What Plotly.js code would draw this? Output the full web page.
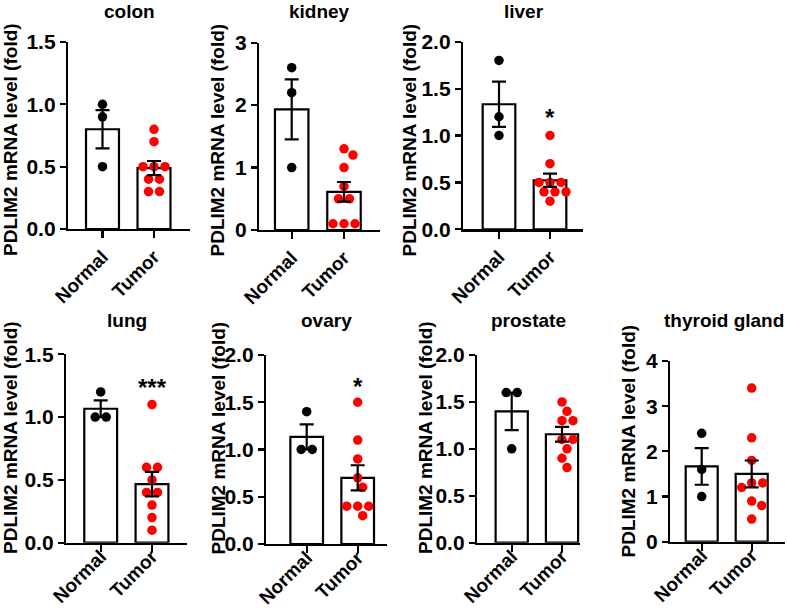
<!DOCTYPE html>
<html>
<head>
<meta charset="utf-8">
<script src="https://cdn.plot.ly/plotly-3.0.1.min.js"></script>
<style>
  body { margin: 0; background: #fff; }
  #chart { width: 787px; height: 610px; }
</style>
</head>
<body>
<div id="chart"></div>
<script>
// values (fold change, one dot per sample)
const tissues = ["colon", "kidney", "liver", "lung", "ovary", "prostate", "thyroid gland"];
const groups = ["Normal", "Tumor"];

const colonNormal = [1.0, 0.9, 0.5];
const colonTumor = [0.8, 0.7, 0.5, 0.5, 0.5, 0.4, 0.4, 0.3, 0.3];
const kidneyNormal = [2.6, 2.2, 1.0];
const kidneyTumor = [1.3, 1.2, 1.0, 0.7, 0.5, 0.5, 0.1, 0.1, 0.1];
const liverNormal = [1.8, 1.2, 1.0];
const liverTumor = [1.0, 0.7, 0.5, 0.5, 0.5, 0.4, 0.4, 0.4, 0.3];
const lungNormal = [1.2, 1.0, 1.0];
const lungTumor = [1.1, 0.6, 0.6, 0.5, 0.4, 0.4, 0.3, 0.2, 0.1];
const ovaryNormal = [1.4, 1.0, 1.0];
const ovaryTumor = [1.5, 1.1, 0.9, 0.7, 0.6, 0.4, 0.4, 0.4, 0.3];
const prostateNormal = [1.6, 1.6, 1.0];
const prostateTumor = [1.5, 1.4, 1.3, 1.3, 1.1, 1.1, 1.0, 0.9, 0.8];
const thyroidNormal = [2.4, 1.6, 1.0];
const thyroidTumor = [3.4, 2.3, 1.8, 1.3, 1.3, 1.2, 0.9, 0.8, 0.5];

const yMax = [1.5, 3, 2, 1.5, 2, 2, 4];
const yStep = [0.5, 1, 0.5, 0.5, 0.5, 0.5, 1];
const stars = ["", "", "*", "***", "*", "", ""];

const normals = [colonNormal, kidneyNormal, liverNormal, lungNormal, ovaryNormal, prostateNormal, thyroidNormal];
const tumors = [colonTumor, kidneyTumor, liverTumor, lungTumor, ovaryTumor, prostateTumor, thyroidTumor];

const W = 787, H = 610;
const FONT = "Arial, 'Liberation Sans', sans-serif";
const DOT = 9.5;

// page pixels: y-axis line, category centres, x-axis end, top tick, zero line,
// centre of the y title, and where the header / star / tick labels sit
const boxes = [
  { x0: 68, c0: 102.5, c1: 154, x1: 190, top: 42, zero: 229, labX: 10, labY: 140, headX: 129, head: 24, star: 0, lift: 0 },
  { x0: 259, c0: 291.7, c1: 344, x1: 380, top: 42.7, zero: 230, labX: 216.5, labY: 140, headX: 319.5, head: 24, star: 0, lift: 0 },
  { x0: 463, c0: 499, c1: 550, x1: 583, top: 41.7, zero: 229.3, labX: 408.5, labY: 140, headX: 524, head: 24, star: 117, lift: 0 },
  { x0: 66, c0: 100.7, c1: 152, x1: 187, top: 354.3, zero: 542.7, labX: 10, labY: 438, headX: 127, head: 333, star: 386, lift: 14 },
  { x0: 266, c0: 306.7, c1: 357.7, x1: 387, top: 355, zero: 544, labX: 217.5, labY: 438, headX: 326, head: 333, star: 385, lift: 14 },
  { x0: 477, c0: 511.7, c1: 562, x1: 580, top: 355, zero: 542.7, labX: 425, labY: 438, headX: 528, head: 333, star: 0, lift: 14 },
  { x0: 670, c0: 701.7, c1: 751.7, x1: 785, top: 361, zero: 541.7, labX: 627.5, labY: 441, headX: 724, head: 333, star: 0, lift: 14 },
];

function mean(a) {
  return a.reduce((s, v) => s + v, 0) / a.length;
}

function sem(a) {
  const m = mean(a);
  const ss = a.reduce((s, v) => s + (v - m) * (v - m), 0);
  return Math.sqrt(ss / (a.length - 1)) / Math.sqrt(a.length);
}

// simple beeswarm in pixel space, returns x offsets in category units
function swarm(vals, pxY, pxX) {
  const minDist = 10.5;
  const order = vals.map((v, i) => i).sort((a, b) => vals[b] - vals[a]);
  const pos = new Array(vals.length);
  const placed = [];
  const hits = (x, y) => placed.some((p) => Math.hypot(p.x - x, p.y - y) < minDist - 0.01);
  order.forEach((i) => {
    const y = vals[i] * pxY;
    let x = 0;
    for (let k = 0; k < 60; k++) {
      const c = k === 0 ? 0 : (k % 2 ? 1 : -1) * Math.ceil(k / 2);
      if (!hits(c, y)) { x = c; break; }
    }
    placed.push({ i: i, x: x, y: y });
  });
  // centre rows of equal values when that does not make dots overlap
  const rows = {};
  placed.forEach((p) => (rows[vals[p.i]] = rows[vals[p.i]] || []).push(p));
  Object.values(rows).forEach((row) => {
    if (row.length < 2) return;
    const shift = -mean(row.map((p) => p.x));
    const ok = row.every((p) => !placed.some((q) =>
      !row.includes(q) && Math.hypot(q.x - p.x - shift, q.y - p.y) < minDist - 0.01));
    if (ok) row.forEach((p) => (p.x += shift));
  });
  placed.forEach((p) => (pos[p.i] = p.x / pxX));
  return pos;
}

var data = [];
var layout = {
  width: W,
  height: H,
  margin: { l: 0, r: 0, t: 0, b: 0 },
  paper_bgcolor: "#fff",
  plot_bgcolor: "rgba(0,0,0,0)",
  showlegend: false,
  hovermode: false,
  annotations: [],
};

tissues.forEach((name, k) => {
  const b = boxes[k];
  const n = k === 0 ? "" : String(k + 1);
  const xa = "x" + n, ya = "y" + n;
  const step = b.c1 - b.c0;
  const pxY = (b.zero - b.top) / yMax[k];
  const sets = [normals[k], tumors[k]];
  const means = sets.map(mean);
  const errs = sets.map(sem);

  data.push({
    type: "bar",
    x: [0, 1],
    y: means,
    width: 0.64,
    xaxis: xa,
    yaxis: ya,
    marker: { color: "#fff", line: { color: "#000", width: 2.2 } },
  });

  sets.forEach((vals, g) => {
    const off = swarm(vals, pxY, step);
    data.push({
      type: "scatter",
      mode: "markers",
      x: vals.map((v, i) => g + off[i]),
      y: vals,
      xaxis: xa,
      yaxis: ya,
      cliponaxis: false,
      marker: { size: DOT, color: g === 0 ? "#000" : "#ff0000" },
    });
  });

  // mean +/- SEM drawn on top of the dots
  data.push({
    type: "scatter",
    mode: "markers",
    x: [0, 1],
    y: means,
    xaxis: xa,
    yaxis: ya,
    marker: { size: 1, color: "rgba(0,0,0,0)" },
    error_y: { type: "data", array: errs, visible: true, color: "#000", thickness: 2.2, width: 7 },
  });

  layout["xaxis" + n] = {
    domain: [b.x0 / W, b.x1 / W],
    anchor: ya,
    range: [-(b.c0 - b.x0) / step, 1 + (b.x1 - b.c1) / step],
    tickvals: [0, 1],
    ticktext: groups,
    tickangle: -45,
    ticks: "outside",
    ticklen: 7,
    tickwidth: 2.2,
    tickcolor: "#000",
    ticklabelstandoff: -b.lift,
    showline: true,
    linewidth: 2.2,
    linecolor: "#000",
    showgrid: false,
    zeroline: false,
    fixedrange: true,
    tickfont: { family: FONT, size: 19, color: "#000", weight: "bold" },
  };
  layout["yaxis" + n] = {
    domain: [1 - b.zero / H, 1 - b.top / H],
    anchor: xa,
    range: [0, yMax[k]],
    dtick: yStep[k],
    tick0: 0,
    tickformat: yStep[k] < 1 ? ".1f" : "d",
    ticks: "outside",
    ticklen: 6,
    tickwidth: 2.2,
    tickcolor: "#000",
    showline: true,
    linewidth: 2.2,
    linecolor: "#000",
    showgrid: false,
    zeroline: false,
    fixedrange: true,
    tickfont: { family: FONT, size: 21, color: "#000", weight: "bold" },
  };

  layout.annotations.push({
    text: name,
    xref: "paper",
    yref: "paper",
    x: b.headX / W,
    y: 1 - b.head / H,
    xanchor: "center",
    yanchor: "bottom",
    showarrow: false,
    font: { family: FONT, size: 19, color: "#000", weight: "bold" },
  });
  layout.annotations.push({
    text: "PDLIM2 mRNA level (fold)",
    xref: "paper",
    yref: "paper",
    x: b.labX / W,
    y: 1 - b.labY / H,
    xanchor: "center",
    yanchor: "middle",
    textangle: -90,
    showarrow: false,
    font: { family: FONT, size: 19, color: "#000", weight: "bold" },
  });
  if (stars[k]) {
    layout.annotations.push({
      text: stars[k],
      xref: xa,
      yref: "paper",
      x: 1,
      y: 1 - (b.star + 16.5) / H,
      xanchor: "center",
      yanchor: "bottom",
      showarrow: false,
      font: { family: FONT, size: 24, color: "#000", weight: "bold" },
    });
  }
});

Plotly.newPlot("chart", data, layout, { displayModeBar: false, staticPlot: true });
</script>
</body>
</html>
